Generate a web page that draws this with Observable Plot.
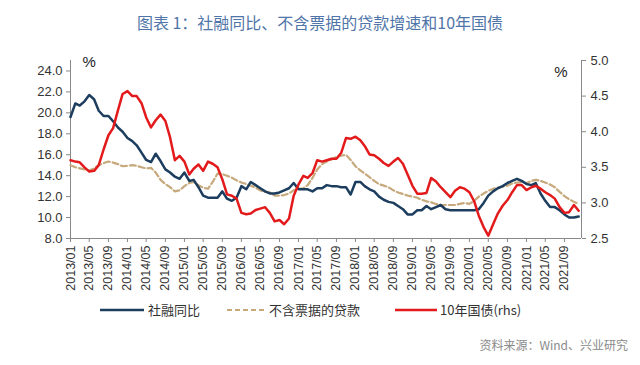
<!DOCTYPE html>
<html><head><meta charset="utf-8">
<script src="https://cdn.jsdelivr.net/npm/d3@7"></script>
<script src="https://cdn.jsdelivr.net/npm/@observablehq/plot@0.6"></script>
<style>
body{margin:0;background:#fff;width:640px;height:365px;position:relative;overflow:hidden;font-family:"Noto Sans CJK SC","Noto Sans",sans-serif;}
#title{position:absolute;left:0;top:10px;width:640px;text-align:center;font-size:16px;color:#5075a8;line-height:24px;}
#chart{position:absolute;left:0;top:40px;}
.leg{position:absolute;top:300px;height:20px;line-height:20px;font-size:13px;color:#333;white-space:nowrap;}
.leg svg{position:absolute;top:0;}
.leg span{position:absolute;top:0;}
#caption{position:absolute;right:12px;top:335px;font-size:12px;color:#8a8a8a;line-height:20px;}
</style>
</head><body>
<div id="title">图表 1：社融同比、不含票据的贷款增速和10年国债</div>
<div id="chart"></div>
<div class="leg" style="left:100px"><svg width="44" height="20"><line x1="0" x2="44" y1="10" y2="10" stroke="#1d3d5e" stroke-width="2.5"/></svg><span style="left:48px">社融同比</span></div>
<div class="leg" style="left:227px"><svg width="40" height="20"><line x1="0" x2="40" y1="10" y2="10" stroke="#c6a97c" stroke-width="2.2" stroke-dasharray="5,3"/></svg><span style="left:42px">不含票据的贷款</span></div>
<div class="leg" style="left:395px"><svg width="42" height="20"><line x1="0" x2="42" y1="10" y2="10" stroke="#e31a1c" stroke-width="2.5"/></svg><span style="left:45px">10年国债(rhs)</span></div>
<div id="caption">资料来源：Wind、兴业研究</div>
<script>
// 社融同比 (%), monthly 2013/01 - 2021/12
const tsf = [19.6,20.9,20.7,21.1,21.7,21.3,20.2,19.7,19.7,19.2,
18.6,18.2,17.6,17.3,16.9,16.2,15.5,15.3,16.1,15.4,
14.6,14.3,13.9,13.7,14.3,13.5,13.6,12.9,12.1,11.9,
11.9,11.9,12.5,11.8,11.6,11.9,13.0,12.7,13.4,13.1,
12.8,12.5,12.3,12.3,12.4,12.6,12.8,13.3,12.7,12.7,
12.7,12.5,12.8,12.8,13.1,13.0,13.0,12.9,12.9,12.2,
13.4,13.4,13.0,12.7,12.5,12.0,11.7,11.5,11.4,11.1,
10.8,10.3,10.3,10.7,10.7,11.1,10.8,11.0,11.2,10.8,
10.7,10.7,10.7,10.7,10.7,10.7,10.8,11.4,12.1,12.5,
12.8,13.0,13.3,13.5,13.7,13.5,13.2,13.1,13.3,12.3,
11.6,11.0,11.0,10.7,10.3,10.0,10.0,10.1];
// 不含票据的贷款增速 (%)
const loans = [15.0,14.8,14.7,14.6,14.5,14.7,15.0,15.2,15.35,15.25,
15.1,14.9,14.95,15.0,14.95,14.8,14.7,14.75,14.3,13.6,
13.2,12.9,12.5,12.6,13.0,13.3,13.4,13.1,12.85,12.75,
13.4,14.2,14.15,14.0,13.8,13.55,13.35,13.2,13.05,12.85,
12.6,12.45,12.4,12.1,12.1,12.15,12.3,12.6,12.75,12.8,
13.1,13.8,14.6,15.1,15.35,15.55,15.8,15.9,16.0,15.5,
14.9,14.5,14.2,13.85,13.5,13.2,13.05,12.9,12.6,12.4,
12.25,12.1,12.0,11.9,11.7,11.55,11.45,11.3,11.2,11.2,
11.2,11.2,11.3,11.4,11.3,11.6,12.0,12.3,12.55,12.75,
12.85,12.95,13.05,13.25,13.35,13.4,13.3,13.5,13.6,13.5,
13.35,13.15,12.9,12.45,12.05,11.75,11.5,11.3];
// 10年国债 (%, rhs)
const bond = [3.60,3.58,3.57,3.50,3.44,3.45,3.53,3.75,3.95,4.05,
4.30,4.53,4.57,4.50,4.50,4.40,4.20,4.06,4.16,4.24,
4.15,3.92,3.60,3.66,3.58,3.40,3.48,3.54,3.45,3.58,
3.55,3.50,3.33,3.12,3.10,3.06,2.86,2.84,2.85,2.90,
2.92,2.94,2.86,2.74,2.76,2.70,2.78,3.10,3.26,3.38,
3.35,3.42,3.60,3.58,3.60,3.62,3.62,3.70,3.91,3.90,
3.93,3.88,3.80,3.68,3.67,3.62,3.56,3.52,3.58,3.63,
3.55,3.40,3.24,3.13,3.13,3.14,3.35,3.30,3.22,3.15,
3.08,3.17,3.22,3.20,3.15,3.02,2.82,2.66,2.54,2.70,
2.85,2.96,3.04,3.15,3.25,3.25,3.18,3.22,3.24,3.20,
3.15,3.11,3.06,2.94,2.86,2.87,2.97,2.89];
const startMonth = "2013/01";
const xTickLabels = ["2013/01","2013/05","2013/09","2014/01","2014/05","2014/09","2015/01","2015/05","2015/09","2016/01","2016/05","2016/09","2017/01","2017/05","2017/09","2018/01","2018/05","2018/09","2019/01","2019/05","2019/09","2020/01","2020/05","2020/09","2021/01","2021/05","2021/09"];
const leftTicks = [8,10,12,14,16,18,20,22,24];
const rightTicks = [2.5,3.0,3.5,4.0,4.5,5.0];
const leftDomain = [8,25];
const rightDomain = [2.5,5.0];

const parseM = d3.utcParse("%Y/%m");
const start = parseM(startMonth);
const months = d3.utcMonth.range(start, d3.utcMonth.offset(start, tsf.length));
const toLeft = v => leftDomain[0] + (v - rightDomain[0]) * (leftDomain[1]-leftDomain[0]) / (rightDomain[1]-rightDomain[0]);
const toRight = v => rightDomain[0] + (v - leftDomain[0]) * (rightDomain[1]-rightDomain[0]) / (leftDomain[1]-leftDomain[0]);
const rows = months.map((d,i)=>({date:d, tsf:tsf[i], loans:loans[i], bond:toLeft(bond[i])}));
const xEnd = new Date(+months[months.length-1] + 0.6*30.44*864e5);
const xTicks = xTickLabels.map(parseM);

const chart = Plot.plot({
  width:640, height:260, marginLeft:70, marginRight:59, marginTop:20, marginBottom:62,
  style:{fontFamily:"'Liberation Sans', Arial, sans-serif", fontSize:"13px", color:"#333", background:"transparent"},
  x:{type:"utc", domain:[start, xEnd]},
  y:{domain:leftDomain},
  marks:[
    Plot.axisY({ticks:leftTicks, tickFormat:d=>d.toFixed(1), tickSize:4, tickPadding:4, label:null, stroke:"#888", fill:"#333", fontSize:13, letterSpacing:1.5}),
    Plot.axisY({anchor:"right", ticks:rightTicks.map(toLeft), tickFormat:d=>toRight(d).toFixed(1), tickSize:4, tickPadding:5, label:null, stroke:"#888", fill:"#333", fontSize:13, letterSpacing:1.5}),
    Plot.axisX({ticks:xTicks, tickFormat:d3.utcFormat("%Y/%m"), tickRotate:-90, tickSize:4, tickPadding:3, label:null, stroke:"#888", fill:"#333", fontSize:12.5}),
    Plot.ruleX([start],{y1:leftDomain[0], y2:leftDomain[1], stroke:"#888"}),
    Plot.ruleX([xEnd],{y1:leftDomain[0], y2:leftDomain[1], stroke:"#888"}),
    Plot.ruleY([leftDomain[0]],{stroke:"#888"}),
    Plot.lineY(rows,{x:"date", y:"loans", stroke:"#c6a97c", strokeWidth:2.2, strokeDasharray:"6,3"}),
    Plot.lineY(rows,{x:"date", y:"tsf", stroke:"#1d3d5e", strokeWidth:2.5}),
    Plot.lineY(rows,{x:"date", y:"bond", stroke:"#e31a1c", strokeWidth:2.5}),
    Plot.text(["%"],{frameAnchor:"top-left", textAnchor:"start", lineAnchor:"top", dx:12, dy:-4, fontSize:15, fill:"#222"}),
    Plot.text(["%"],{frameAnchor:"top-right", textAnchor:"end", lineAnchor:"top", dx:-14, dy:6, fontSize:15, fill:"#222"})
  ]
});
document.getElementById("chart").appendChild(chart);
</script>
</body></html>
